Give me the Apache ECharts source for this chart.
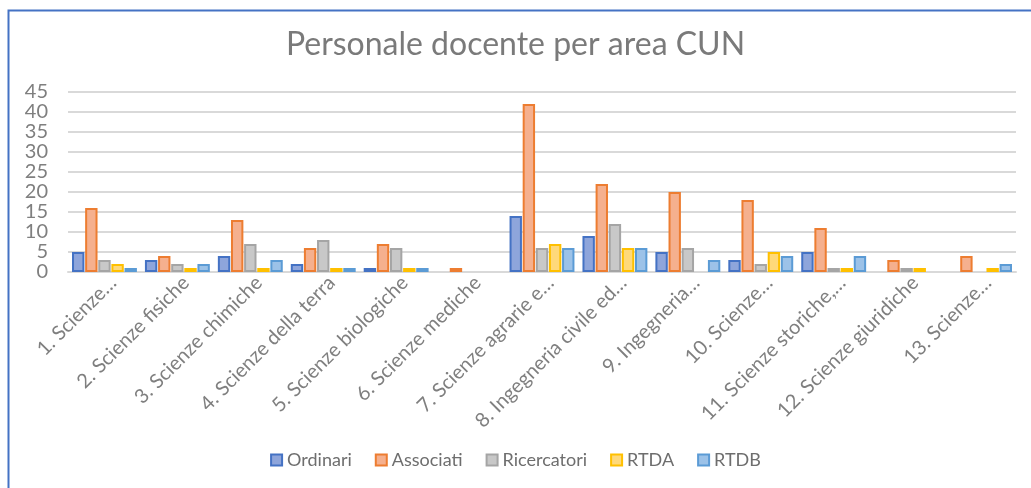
<!DOCTYPE html>
<html>
<head>
<meta charset="utf-8">
<script src="https://cdn.jsdelivr.net/npm/echarts@6/dist/echarts.min.js"></script>
<style>
html,body{margin:0;padding:0;background:#fff;}
#chart{width:1031px;height:488px;}
</style>
</head>
<body>
<div id="chart"></div>
<script>
const categories = [
  "1. Scienze…", "2. Scienze fisiche", "3. Scienze chimiche", "4. Scienze della terra",
  "5. Scienze biologiche", "6. Scienze mediche", "7. Scienze agrarie e…",
  "8. Ingegneria civile ed…", "9. Ingegneria…", "10. Scienze…",
  "11. Scienze storiche,…", "12. Scienze giuridiche", "13. Scienze…"
];
const seriesNames = ["Ordinari", "Associati", "Ricercatori", "RTDA", "RTDB"];
const ordinari    = [5, 3, 4, 2, 1, 0, 14, 9, 5, 3, 5, 0, 0];
const associati   = [16, 4, 13, 6, 7, 1, 42, 22, 20, 18, 11, 3, 4];
const ricercatori = [3, 2, 7, 8, 6, 0, 6, 12, 6, 2, 1, 1, 0];
const rtda        = [2, 1, 1, 1, 1, 0, 7, 6, 0, 5, 1, 1, 1];
const rtdb        = [1, 2, 3, 1, 1, 0, 6, 6, 3, 4, 4, 0, 2];
const yTicks = [0, 5, 10, 15, 20, 25, 30, 35, 40, 45];

const fills   = ["#8EA5DB", "#F5B08E", "#C8C8C8", "#FFD97A", "#9CC2E8"];
const borders = ["#4472C4", "#ED7D31", "#A5A5A5", "#FFC000", "#5B9BD5"];
const values = [ordinari, associati, ricercatori, rtda, rtdb];

const chart = echarts.init(document.getElementById('chart'));
const font = 'Lato, "Liberation Sans", sans-serif';
chart.setOption({
  animation: false,
  backgroundColor: '#fff',
  textStyle: { fontFamily: font },
  title: {
    text: 'Personale docente per area CUN',
    left: 'center', top: 24,
    textStyle: { fontFamily: font, fontSize: 32, fontWeight: 'normal', color: '#7a7a7a' }
  },
  graphic: [{
    type: 'polyline',
    shape: { points: [[8.5, 488], [8.5, 10.5], [1031, 10.5]] },
    style: { stroke: '#4472C4', lineWidth: 2, fill: null }
  }],
  legend: {
    bottom: 14, left: 'center',
    itemWidth: 11, itemHeight: 11, itemGap: 23,
    icon: 'rect',
    textStyle: { fontFamily: font, fontSize: 18, color: '#6e6e6e' },
    data: seriesNames
  },
  grid: { left: 68, right: 15, top: 92, bottom: 216, containLabel: false },
  xAxis: {
    type: 'category',
    data: categories,
    axisLine: { lineStyle: { color: '#d9d9d9', width: 2 } },
    axisTick: { show: false },
    axisLabel: { rotate: 45, interval: 0, fontFamily: font, fontSize: 20, color: '#7f7f7f',
                 margin: 16, padding: [0, -12, 0, 0] }
  },
  yAxis: {
    type: 'value',
    min: yTicks[0], max: yTicks[yTicks.length - 1], interval: 5,
    axisLine: { show: false },
    axisTick: { show: false },
    splitLine: { lineStyle: { color: '#d9d9d9', width: 2 } },
    axisLabel: { fontFamily: font, fontSize: 20, color: '#7f7f7f', margin: 20 }
  },
  series: seriesNames.map((name, i) => ({
    name, type: 'bar',
    data: values[i].map(v => (v === 0 ? null : v)),
    barGap: '6%',
    barCategoryGap: '11%',
    itemStyle: { color: fills[i], borderColor: borders[i], borderWidth: 2 }
  }))
});
</script>
</body>
</html>
